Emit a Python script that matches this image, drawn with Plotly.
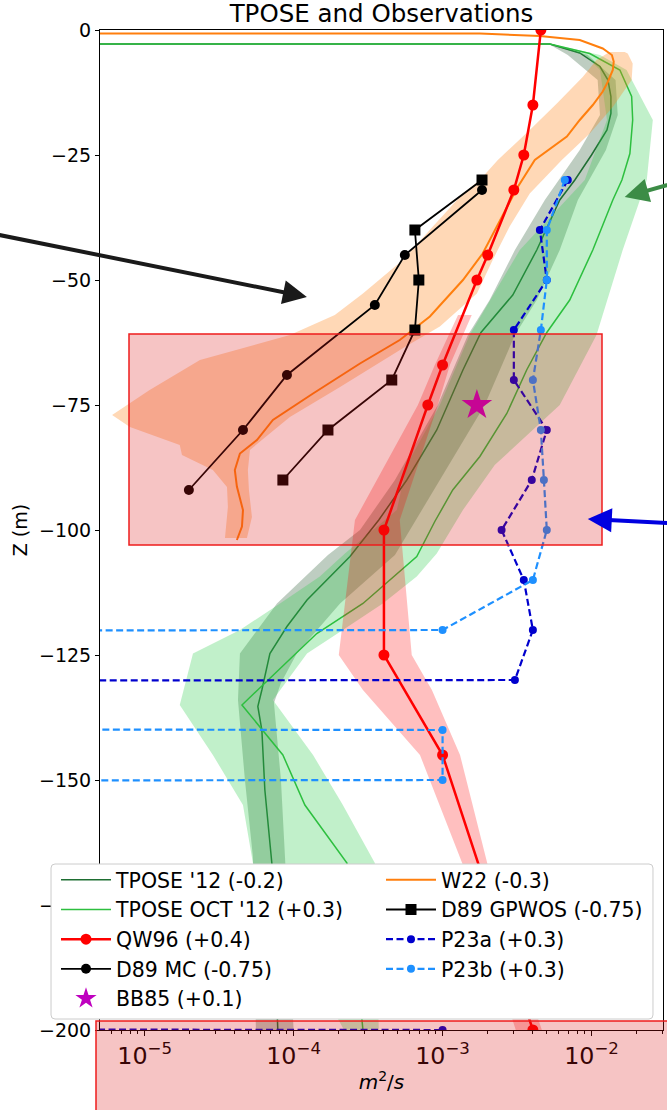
import plotly.graph_objects as go

# Vertical diffusivity profiles: depth (m) and diffusivity (m^2/s).
# Non-positive diffusivities sit at a vanishing floor, so their segments run off
# the left edge of the log axis.
FLOOR = 1e-300

# TPOSE 2012 mean (dark green) and October 2012 (light green)
tpose12_z = [-2.5, -2.8, -4.6, -7.3, -10, -13.3, -16.7, -20, -25, -30, -34, -44, -53, -60.5,
             -68, -80, -90, -98, -105.3, -114, -119.3, -124.7, -132, -135.3, -140, -152, -166.6, -200]
tpose12_k = [FLOOR, 5.25e-3, 8.34e-3, 1.14e-2, 1.29e-2, 1.35e-2, 1.35e-2, 1.27e-2, 1.00e-2, 7.73e-3,
             6.12e-3, 4.29e-3, 2.96e-3, 1.81e-3, 1.37e-3, 9.14e-4, 5.75e-4, 3.73e-4, 2.39e-4, 1.23e-4,
             9.02e-5, 6.93e-5, 6.12e-5, 5.75e-5, 6.12e-5, 6.41e-5, 7.14e-5, 7.83e-5]
tpose12_lo_z = [-2.8, -5, -10, -17, -24, -34, -44, -54, -61, -75, -90, -100, -105, -114.7, -124.7,
                -134, -150, -165.4, -200]
tpose12_lo_k = [5.16e-3, 6.93e-3, 1.10e-2, 1.14e-2, 8.34e-3, 4.86e-3, 3.06e-3, 2.07e-3, 1.48e-3,
                9.29e-4, 4.79e-4, 2.79e-4, 1.70e-4, 7.73e-5, 4.36e-5, 4.23e-5, 4.71e-5, 5.33e-5, 5.58e-5]
tpose12_hi_z = [-2.8, -5, -10, -17, -24, -34, -44, -54, -61, -75, -90, -100, -105, -114.7, -124.7,
                -130.6, -134.6, -150, -165.4, -200]
tpose12_hi_k = [5.41e-3, 9.44e-3, 1.45e-2, 1.50e-2, 1.25e-2, 8.10e-3, 6.12e-3, 4.29e-3, 3.06e-3,
                1.92e-3, 9.59e-4, 6.04e-4, 4.79e-4, 2.05e-4, 1.05e-4, 8.22e-5, 7.38e-5, 8.22e-5,
                8.75e-5, 1.00e-4]

tposeoct_z = [-2.5, -2.8, -4.7, -8, -13.3, -18, -24.7, -30, -34, -44, -54, -60.5, -68, -76.7, -85.3,
              -92, -98.3, -105.3, -114.7, -120.7, -135, -145, -155, -166.6, -200]
tposeoct_k = [FLOOR, 5.25e-3, 9.73e-3, 1.55e-2, 1.86e-2, 1.89e-2, 1.81e-2, 1.60e-2, 1.39e-2, 1.02e-2,
              7.14e-3, 5.01e-3, 3.67e-3, 2.70e-3, 1.78e-3, 1.17e-3, 8.87e-4, 6.71e-4, 2.92e-4,
              1.43e-4, 4.50e-5, 8.47e-5, 1.19e-4, 2.28e-4, 2.92e-4]
tposeoct_lo_z = [-2.8, -5, -8, -18, -30, -44, -61, -75, -87, -96, -104.7, -109.3, -114.7, -120,
                 -124.7, -135, -145, -155, -166.6, -200]
tposeoct_lo_k = [5.16e-3, 9.01e-3, 1.14e-2, 1.27e-2, 9.01e-3, 3.30e-3, 1.52e-3, 9.59e-4, 5.75e-4,
                 4.93e-4, 2.21e-4, 1.50e-4, 8.10e-5, 4.36e-5, 2.11e-5, 1.72e-5, 2.87e-5, 4.57e-5,
                 5.33e-5, 2.18e-4]
tposeoct_hi_z = [-2.8, -5, -8, -18, -30, -44, -61, -75, -87, -96, -104.7, -109.3, -114.7, -120,
                 -124.7, -134, -145, -155, -166.6, -200]
tposeoct_hi_k = [5.41e-3, 1.14e-2, 1.72e-2, 2.58e-2, 2.35e-2, 1.62e-2, 1.08e-2, 6.12e-3, 2.24e-3,
                 1.37e-3, 9.14e-4, 6.71e-4, 3.97e-4, 2.14e-4, 1.23e-4, 7.26e-5, 1.35e-4, 2.14e-4,
                 3.51e-4, 3.73e-4]

# W22 (orange)
w22_z = [0, -0.7, -1.2, -2.0, -3.7, -5, -6.3, -8, -10.3, -12.3, -15, -18, -21.3, -26, -31.7, -44.7,
         -50, -57.3, -62, -66.7, -72.7, -78, -82, -84.7, -88, -91.3, -96, -99.3, -102]
w22_k = [FLOOR, 1.78e-3, 4.50e-3, 8.34e-3, 1.19e-2, 1.37e-2, 1.41e-2, 1.39e-2, 1.29e-2, 1.19e-2,
         1.02e-2, 8.34e-3, 6.83e-3, 4.16e-3, 3.15e-3, 1.86e-3, 1.37e-3, 8.22e-4, 5.16e-4, 2.79e-4,
         1.35e-4, 7.26e-5, 5.67e-5, 4.36e-5, 4.03e-5, 4.16e-5, 4.57e-5, 4.50e-5, 4.16e-5]
w22_lo_z = [-4.4, -6, -9.4, -14.7, -20, -26, -30, -32.7, -39.3, -46, -52.7, -57, -61, -66, -72, -76,
            -77, -79.4, -83, -85, -88, -91.4, -95.4, -101.6]
w22_lo_k = [1.32e-2, 1.08e-2, 8.73e-3, 5.85e-3, 3.85e-3, 2.35e-3, 1.78e-3, 1.37e-3, 8.61e-4, 5.41e-4,
            2.92e-4, 1.89e-4, 9.44e-5, 2.35e-5, 1.08e-5, 6.80e-6, 6.04e-6, 7.96e-6, 1.72e-5, 1.78e-5,
            2.87e-5, 3.57e-5, 3.62e-5, 3.46e-5]
w22_hi_z = [-4.4, -4.7, -6.7, -10, -15.4, -20.7, -26, -32.7, -39.3, -46, -52.7, -59.3, -63.4, -71.4,
            -77.4, -82, -84, -88, -92, -97.4, -101.6]
w22_hi_k = [1.67e-2, 1.75e-2, 1.89e-2, 1.86e-2, 1.39e-2, 9.73e-3, 6.32e-3, 3.85e-3, 2.82e-3, 2.17e-3,
            1.70e-3, 9.59e-4, 5.58e-4, 2.05e-4, 9.44e-5, 6.12e-5, 5.09e-5, 4.93e-5, 5.01e-5, 5.25e-5,
            4.86e-5]

# QW96 (red)
qw96_z = [0, -15, -25, -32, -45, -50, -67, -75, -100, -125, -145, -200]
qw96_k = [4.57e-3, 4.04e-3, 3.51e-3, 3.01e-3, 2.01e-3, 1.70e-3, 1.00e-3, 7.96e-4, 4.04e-4, 4.04e-4,
          1.00e-3, 4.04e-3]
qw96_band_z = [-57, -67, -75, -98, -125, -132, -145, -167, -200]
qw96_lo_k = [1.27e-3, 8.87e-4, 6.83e-4, 2.58e-4, 2.01e-4, 2.92e-4, 7.05e-4, 1.37e-3, 3.10e-3]
qw96_hi_k = [1.57e-3, 1.12e-3, 9.29e-4, 5.16e-4, 6.21e-4, 8.48e-4, 1.31e-3, 2.01e-3, 4.64e-3]

# D89 microstructure casts
d89mc_z = [-32, -45, -55, -69, -80, -92]
d89mc_k = [1.84e-3, 5.58e-4, 3.51e-4, 9.02e-5, 4.57e-5, 1.98e-5]
d89gp_z = [-30, -40, -50, -60, -70, -80, -90]
d89gp_k = [1.84e-3, 6.52e-4, 6.93e-4, 6.52e-4, 4.56e-4, 1.70e-4, 8.47e-5]

# BB85 single estimate
bb85_z = [-75]
bb85_k = [1.70e-3]

# P23 profiles
p23a_z = [-30, -40, -50, -60, -70, -80, -90, -100, -110, -120, -130, -140, -190, -200]
p23a_k = [6.93e-3, 4.50e-3, 5.01e-3, 3.01e-3, 3.01e-3, 5.01e-3, 3.97e-3, 2.49e-3, 3.51e-3, 4.04e-3,
          3.06e-3, FLOOR, FLOOR, 1.00e-3]
p23b_z = [-30, -40, -50, -60, -70, -80, -90, -100, -110, -120, -130, -140, -150, -160]
p23b_k = [6.62e-3, 5.01e-3, 5.01e-3, 4.57e-3, 4.04e-3, 4.57e-3, 4.79e-3, 5.01e-3, 4.04e-3, 1.00e-3,
          FLOOR, 1.00e-3, 1.00e-3, FLOOR]

# Axis / tick settings
x_range_log = [-5.30, -1.52]
y_ticks = [0, -25, -50, -75, -100, -125, -150, -175, -200]
highlight_depths = [-60.8, -103]

# Pointer arrows: (tip log10 k, tip depth, tail log10 k, tail depth, colour)
pointer_arrows = [
    (-3.911, -53.4, -6.374, -38.6, "#1a1a1a"),
    (-1.777, -33.4, -1.273, -29.2, "#3c8c46"),
    (-2.025, -97.8, -1.152, -99.1, "#0000e0"),
]

FONT = "DejaVu Sans"
DARK_GREEN = "#1e6e32"
LIGHT_GREEN = "#2dbf3f"
ORANGE = "#ff7f0e"
RED = "#ff0000"
MAGENTA = "#bf00bf"
P23A_BLUE = "#0000cd"
P23B_BLUE = "#1e90ff"


def band(lo_k, lo_z, hi_k, hi_z, fill):
    return go.Scatter(x=list(lo_k) + list(hi_k)[::-1], y=list(lo_z) + list(hi_z)[::-1],
                      fill="toself", fillcolor=fill, mode="lines", line=dict(width=0),
                      showlegend=False, hoverinfo="skip")


fig = go.Figure()

fig.add_trace(band(tpose12_lo_k, tpose12_lo_z, tpose12_hi_k, tpose12_hi_z, "rgba(40,90,50,0.30)"))
fig.add_trace(go.Scatter(x=tpose12_k, y=tpose12_z, mode="lines", name="TPOSE '12 (-0.2)",
                         line=dict(color=DARK_GREEN, width=1.5)))
fig.add_trace(band(tposeoct_lo_k, tposeoct_lo_z, tposeoct_hi_k, tposeoct_hi_z, "rgba(50,205,80,0.30)"))
fig.add_trace(go.Scatter(x=tposeoct_k, y=tposeoct_z, mode="lines", name="TPOSE OCT '12 (+0.3)",
                         line=dict(color=LIGHT_GREEN, width=1.5)))
fig.add_trace(band(w22_lo_k, w22_lo_z, w22_hi_k, w22_hi_z, "rgba(255,127,14,0.30)"))
fig.add_trace(go.Scatter(x=w22_k, y=w22_z, mode="lines", name="W22 (-0.3)", legend="legend2",
                         line=dict(color=ORANGE, width=2)))
fig.add_trace(band(qw96_lo_k, qw96_band_z, qw96_hi_k, qw96_band_z, "rgba(255,0,0,0.25)"))
fig.add_trace(go.Scatter(x=qw96_k, y=qw96_z, mode="lines+markers", name="QW96 (+0.4)",
                         line=dict(color=RED, width=2.5), marker=dict(size=11, color=RED)))
fig.add_trace(go.Scatter(x=d89mc_k, y=d89mc_z, mode="lines+markers", name="D89 MC (-0.75)",
                         line=dict(color="black", width=1.8), marker=dict(size=10, color="black")))
fig.add_trace(go.Scatter(x=d89gp_k, y=d89gp_z, mode="lines+markers", name="D89 GPWOS (-0.75)",
                         legend="legend2", line=dict(color="black", width=1.8),
                         marker=dict(size=11, color="black", symbol="square")))
fig.add_trace(go.Scatter(x=bb85_k, y=bb85_z, mode="markers", name="BB85 (+0.1)",
                         marker=dict(size=23, color=MAGENTA, symbol="star", line=dict(width=0))))
fig.add_trace(go.Scatter(x=p23a_k, y=p23a_z, mode="lines+markers", name="P23a (+0.3)",
                         legend="legend2", line=dict(color=P23A_BLUE, width=2.2, dash="7px,3.5px"),
                         marker=dict(size=8, color=P23A_BLUE)))
fig.add_trace(go.Scatter(x=p23b_k, y=p23b_z, mode="lines+markers", name="P23b (+0.3)",
                         legend="legend2", line=dict(color=P23B_BLUE, width=2.2, dash="7px,3.5px"),
                         marker=dict(size=8, color=P23B_BLUE)))

PINK = "rgba(220,20,20,0.25)"
BOX_RED = "#ee1c1c"

# rounded legend frame (paper coordinates)
lx0, lx1, ly0, ly1 = -0.0870, 0.9822, 0.011, 0.166
rx, ry = 0.0071, 0.004
legend_frame = (f"M{lx0+rx},{ly1} L{lx1-rx},{ly1} Q{lx1},{ly1} {lx1},{ly1-ry} "
                f"L{lx1},{ly0+ry} Q{lx1},{ly0} {lx1-rx},{ly0} L{lx0+rx},{ly0} "
                f"Q{lx0},{ly0} {lx0},{ly0+ry} L{lx0},{ly1-ry} Q{lx0},{ly1} {lx0+rx},{ly1} Z")

arrow_annotations = [
    dict(xref="x", yref="y", axref="x", ayref="y", x=tx, y=tz, ax=sx, ay=sz, text="",
         showarrow=True, arrowhead=2, arrowsize=1.2, arrowwidth=4, arrowcolor=col, standoff=0)
    for tx, tz, sx, sz, col in pointer_arrows
]

fig.update_layout(
    template="none",
    width=667, height=1110,
    margin=dict(l=100, r=4, t=30, b=80),
    paper_bgcolor="white", plot_bgcolor="white",
    font=dict(family=FONT, size=19, color="black"),
    title=dict(text="TPOSE and Observations", x=381.5 / 667, xanchor="center",
               xref="container", y=1 - 13 / 1110, yanchor="middle",
               yref="container", font=dict(size=24.5, family=FONT, color="black")),
    xaxis=dict(type="log", range=x_range_log, dtick=1, exponentformat="power",
               showline=True, linecolor="black", linewidth=1, mirror=True,
               ticks="outside", ticklen=5, tickwidth=1, tickcolor="black",
               minor=dict(ticks="outside", ticklen=3, tickwidth=0.8, tickcolor="black", showgrid=False),
               showgrid=False, zeroline=False, automargin=False,
               tickfont=dict(size=19, family=FONT),
               title=dict(text="<i>m</i><sup>2</sup>/<i>s</i>", standoff=6,
                          font=dict(size=20, family=FONT))),
    yaxis=dict(range=[-200, 0], tickvals=y_ticks, showline=True, linecolor="black", linewidth=1,
               mirror=True, ticks="outside", ticklen=4, tickwidth=1, tickcolor="black",
               showgrid=False, zeroline=False, automargin=False,
               tickfont=dict(size=19, family=FONT),
               title=dict(text="Z (m)", standoff=6, font=dict(size=19, family=FONT))),
    legend=dict(x=(56 - 100) / 563, y=0.170, xanchor="left", yanchor="top",
                bgcolor="rgba(0,0,0,0)", borderwidth=0, itemwidth=50, tracegroupgap=0,
                font=dict(size=20.5, family=FONT, color="black")),
    legend2=dict(x=(381 - 100) / 563, y=0.170, xanchor="left", yanchor="top",
                 bgcolor="rgba(0,0,0,0)", borderwidth=0, itemwidth=50, tracegroupgap=0,
                 font=dict(size=20.5, family=FONT, color="black")),
    shapes=[
        dict(type="rect", xref="paper", yref="y", x0=(129 - 100) / 563, x1=(602 - 100) / 563,
             y0=highlight_depths[0], y1=highlight_depths[1], fillcolor=PINK,
             line=dict(color=BOX_RED, width=1.5), layer="above"),
        dict(type="rect", xref="paper", yref="paper", x0=-0.0071, x1=1.05, y0=0.009, y1=-0.12,
             fillcolor=PINK, line=dict(color=BOX_RED, width=1.5), layer="above"),
        dict(type="path", xref="paper", yref="paper", path=legend_frame, fillcolor="white",
             line=dict(color="#cccccc", width=1), layer="above"),
    ],
    annotations=arrow_annotations,
)

fig.write_html("out.html")
